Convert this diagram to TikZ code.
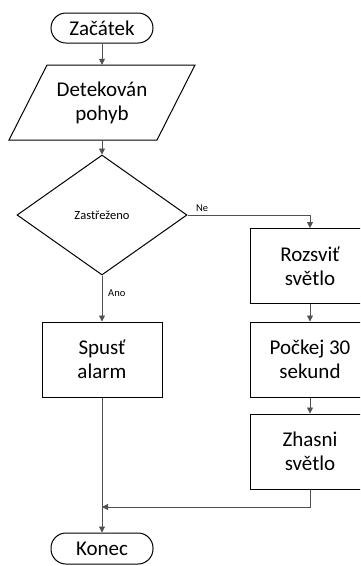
\documentclass[tikz,border=0pt]{standalone}
\usepackage{fontspec}
\setmainfont{Carlito}
\usetikzlibrary{shapes.geometric,arrows.meta}
\begin{document}
\begin{tikzpicture}[x=1pt,y=-1pt,
  big/.style={font=\fontsize{21}{24}\selectfont, align=center},
  term/.style={draw=black, line width=1pt, rounded corners=15pt, minimum width=102pt, minimum height=30pt, inner sep=0pt, big},
  proc/.style={draw=black, line width=1pt, minimum width=120pt, minimum height=75pt, inner sep=0pt, big},
  dec/.style={draw=black, line width=1pt, diamond, aspect=1.4167, minimum width=170pt, minimum height=120pt, inner sep=0pt, font=\fontsize{12.5}{14}\selectfont},
  lbl/.style={font=\fontsize{10.5}{12}\selectfont, inner sep=0pt},
  conn/.style={draw={rgb,255:red,80;green,80;blue,80}, line width=0.8pt, -{Triangle[length=6pt,width=6pt]}},
  line/.style={draw={rgb,255:red,80;green,80;blue,80}, line width=0.8pt}
]
\useasboundingbox (0,0) rectangle (360,566);
\clip (0,0) rectangle (360,566);
\fill[white] (0,0) rectangle (360,566);

\node[term] (start) at (102,28) {Začátek};
\draw[line width=1pt] (47,65) -- (195,65) -- (157,140) -- (9,140) -- cycle;
\node[big, minimum height=75pt, minimum width=1pt, inner sep=0pt] (detect) at (102,102.5) {Detekován\\pohyb};
\node[dec] (cond) at (102,215) {Zastřeženo};
\node[proc] (light) at (310,266) {Rozsviť\\světlo};
\node[proc] (wait) at (310,359.5) {Počkej 30\\sekund};
\node[proc] (off) at (310,451.5) {Zhasni\\světlo};
\node[proc] (alarm) at (102,359.5) {Spusť\\alarm};
\node[term, minimum height=31pt] (end) at (102,548.5) {Konec};
\coordinate (merge) at (102,507);

\draw[conn] (start) -- (detect.north);
\draw[conn] (detect.south) -- (cond.north);
\draw[conn] (cond.east) -| (light.north);
\draw[conn] (cond.south) -- (alarm.north);
\draw[conn] (light) -- (wait);
\draw[conn] (wait) -- (off);
\draw[conn] (off.south) |- (merge);
\draw[conn] (alarm.south) -- (end.north);

\node[lbl, anchor=south west] (ne) at (196,212) {Ne};
\node[lbl, anchor=west] (ano) at (108,293) {Ano};
\end{tikzpicture}
\end{document}
